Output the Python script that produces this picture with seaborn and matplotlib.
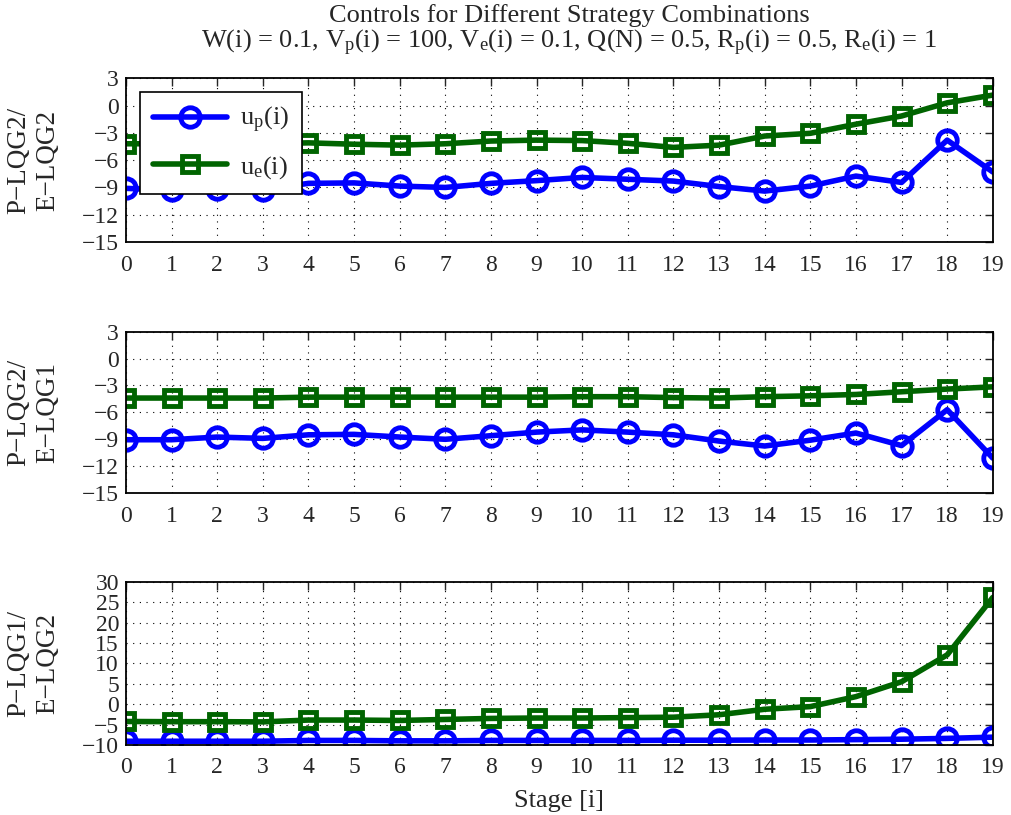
import numpy as np
import pandas as pd
import seaborn as sns
import matplotlib.pyplot as plt

stages = list(range(20))

# P-LQG2 / E-LQG2
up_1 = [-9.1, -9.3, -9.2, -9.25, -8.55, -8.5, -8.85, -9.0, -8.55, -8.25,
        -7.9, -8.1, -8.3, -8.9, -9.4, -8.85, -7.75, -8.45, -3.8, -7.3]
ue_1 = [-4.2, -4.2, -4.2, -4.2, -4.1, -4.25, -4.35, -4.2, -3.9, -3.8,
        -3.85, -4.15, -4.6, -4.35, -3.35, -3.05, -2.05, -1.15, 0.3, 1.15]

# P-LQG2 / E-LQG1
up_2 = [-9.05, -9.05, -8.75, -8.9, -8.5, -8.45, -8.75, -9.0, -8.6, -8.2,
        -7.95, -8.2, -8.5, -9.2, -9.75, -9.1, -8.3, -9.7, -5.7, -11.1]
ue_2 = [-4.4, -4.4, -4.4, -4.4, -4.3, -4.3, -4.3, -4.3, -4.3, -4.3,
        -4.25, -4.25, -4.35, -4.4, -4.25, -4.15, -4.0, -3.7, -3.4, -3.15]

# P-LQG1 / E-LQG2
up_3 = [-9.1, -9.1, -9.1, -9.1, -8.9, -8.9, -9.0, -9.0, -8.9, -8.9,
        -8.9, -8.9, -8.85, -8.85, -8.8, -8.8, -8.7, -8.6, -8.4, -8.1]
ue_3 = [-4.25, -4.3, -4.3, -4.35, -3.9, -3.9, -4.0, -3.75, -3.5, -3.4,
        -3.4, -3.3, -3.2, -2.6, -1.25, -0.6, 1.85, 5.5, 12.1, 26.2]

panels = [
    ("P\u2212LQG2/\nE\u2212LQG2", up_1, ue_1, (-15, 3), np.arange(-15, 4, 3)),
    ("P\u2212LQG2/\nE\u2212LQG1", up_2, ue_2, (-15, 3), np.arange(-15, 4, 3)),
    ("P\u2212LQG1/\nE\u2212LQG2", up_3, ue_3, (-10, 30), np.arange(-10, 31, 5)),
]

sns.set_style("white")
plt.rcParams["font.family"] = ["Liberation Serif", "DejaVu Serif"]
plt.rcParams["mathtext.fontset"] = "custom"
plt.rcParams["mathtext.rm"] = "Liberation Serif"
plt.rcParams["mathtext.it"] = "Liberation Serif:italic"

fig = plt.figure(figsize=(10.11, 8.15), dpi=100)
boxes = [(0.1246, 0.703, 0.8574, 0.201),
         (0.1246, 0.395, 0.8574, 0.198),
         (0.1246, 0.086, 0.8574, 0.200)]

blue = "#0000ff"
green = "#006400"

for i, (label, up, ue, ylim, yt) in enumerate(panels):
    ax = fig.add_axes(boxes[i])
    df = pd.DataFrame({"stage": stages, "up": up, "ue": ue})
    sns.lineplot(data=df, x="stage", y="up", ax=ax, color=blue, lw=4,
                 marker="o", markersize=14, markerfacecolor="none",
                 markeredgecolor=blue, markeredgewidth=3.5,
                 label=r"u$_\mathrm{p}$(i)")
    sns.lineplot(data=df, x="stage", y="ue", ax=ax, color=green, lw=4,
                 marker="s", markersize=12, markerfacecolor="none",
                 markeredgecolor=green, markeredgewidth=3.5,
                 label=r"u$_\mathrm{e}$(i)")
    ax.set_xlim(0, 19)
    ax.set_ylim(*ylim)
    ax.set_xticks(stages)
    ax.set_yticks(yt)
    ax.grid(True, linestyle=(0, (1, 5)), color="black", linewidth=0.8)
    ax.tick_params(direction="in", top=True, right=True, labelsize=17,
                   length=6, width=1)
    ax.tick_params(axis="x", pad=9)
    ax.tick_params(axis="y", pad=5)
    for sp in ax.spines.values():
        sp.set_linewidth(1.3)
        sp.set_color("black")
    ax.set_ylabel(label, fontsize=19.5)
    ax.yaxis.set_label_coords(-0.076, 0.5)
    ax.set_xlabel("")
    if i == 0:
        leg = ax.legend(loc="upper left", bbox_to_anchor=(0.016, 0.915),
                        borderaxespad=0, fontsize=19, frameon=True,
                        fancybox=False, framealpha=1, edgecolor="black",
                        handlelength=2.8, borderpad=0.5, labelspacing=0.7,
                        handletextpad=0.5)
        leg.get_frame().set_linewidth(1.2)
    else:
        ax.get_legend().remove()
    if i == 2:
        ax.set_xlabel("Stage [i]", fontsize=19, labelpad=8)

fig.text(0.563, 0.995, "Controls for Different Strategy Combinations",
         ha="center", va="top", fontsize=19)
fig.text(0.563, 0.966,
         r"W(i) = 0.1, V$_\mathrm{p}$(i) = 100, V$_\mathrm{e}$(i) = 0.1, "
         r"Q(N) = 0.5, R$_\mathrm{p}$(i) = 0.5, R$_\mathrm{e}$(i) = 1",
         ha="center", va="top", fontsize=19)

fig.savefig("out.png", dpi=100)
